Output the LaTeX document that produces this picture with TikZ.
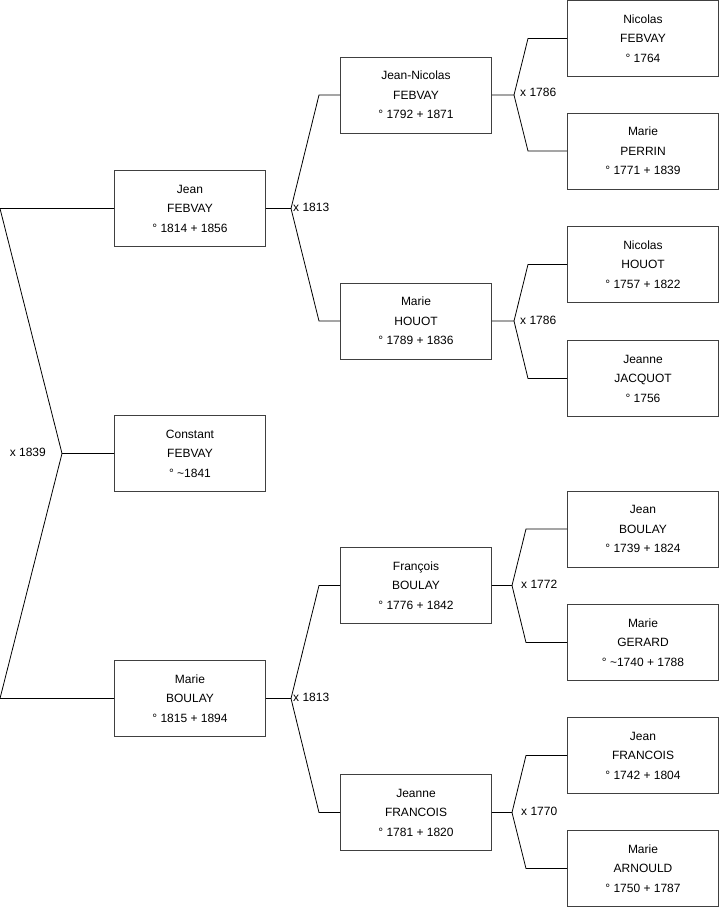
\documentclass[tikz,border=0pt]{standalone}
\usepackage{fontspec}
\setmainfont{Liberation Sans}
\usetikzlibrary{positioning, calc}

\begin{document}
\begin{tikzpicture}[
        x=1pt, y=-1pt, font=\fontsize{12}{19.5}\selectfont,
        person/.style={draw=black!75, line width=0.9pt, fill=white, align=center, inner sep=0pt, minimum width=151pt, minimum height=76pt},
        lnk/.style={line width=0.8pt},
        wed/.style={inner sep=0pt, font=\fontsize{12}{14}\selectfont}]
        \useasboundingbox (0,0) rectangle (719,908);
        % generation 0 and 1
        \node[person] (constant) at (190,453.5) {Constant\\FEBVAY\\° \textasciitilde 1841};
        \node[person] (jean)  at (190,208.5) {Jean\\FEBVAY\\° 1814 + 1856};
        \node[person] (marie) at (190,698.5) {Marie\\BOULAY\\° 1815 + 1894};
        % generation 2
        \node[person] (jnicolas) at (416,95)  {Jean-Nicolas\\FEBVAY\\° 1792 + 1871};
        \node[person] (mhouot)   at (416,321) {Marie\\HOUOT\\° 1789 + 1836};
        \node[person] (fboulay)  at (416,585.5) {François\\BOULAY\\° 1776 + 1842};
        \node[person] (jfrancois) at (416,812.5) {Jeanne\\FRANCOIS\\° 1781 + 1820};
        % generation 3
        \node[person] (nfebvay)  at (643,38.5)  {Nicolas\\FEBVAY\\° 1764};
        \node[person] (mperrin)  at (643,151)   {Marie\\PERRIN\\° 1771 + 1839};
        \node[person] (nhouot)   at (643,264.5) {Nicolas\\HOUOT\\° 1757 + 1822};
        \node[person] (jjacquot) at (643,378.5) {Jeanne\\JACQUOT\\° 1756};
        \node[person] (jboulay)  at (643,529)   {Jean\\BOULAY\\° 1739 + 1824};
        \node[person] (mgerard)  at (643,642.5) {Marie\\GERARD\\° \textasciitilde 1740 + 1788};
        \node[person] (jfrancoisb) at (643,755.5) {Jean\\FRANCOIS\\° 1742 + 1804};
        \node[person] (marnould) at (643,868.5) {Marie\\ARNOULD\\° 1750 + 1787};
        % junctions
        \coordinate (c0) at (62,453.5);   \coordinate (c0a) at (0,208.5);  \coordinate (c0b) at (0,698.5);
        \coordinate (c1) at (291,208.5);  \coordinate (c1a) at (319,95);   \coordinate (c1b) at (319,321);
        \coordinate (c2) at (291,698.5);  \coordinate (c2a) at (319,585.5); \coordinate (c2b) at (319,812.5);
        \coordinate (c3) at (514,95);     \coordinate (c3a) at (528,38.5); \coordinate (c3b) at (528,151);
        \coordinate (c4) at (514,321);    \coordinate (c4a) at (528,264.5); \coordinate (c4b) at (528,378.5);
        \coordinate (c5) at (512,585.5);  \coordinate (c5a) at (526,529);  \coordinate (c5b) at (526,642.5);
        \coordinate (c6) at (512,812.5);  \coordinate (c6a) at (526,755.5); \coordinate (c6b) at (526,868.5);
        \draw[lnk] (constant.west) -- (c0) -- (c0a) -- (jean.west);  \draw[lnk] (c0) -- (c0b) -- (marie.west);
        \draw[lnk] (jean.east) -- (c1) -- (c1a) -- (jnicolas.west); \draw[lnk] (c1) -- (c1b) -- (mhouot.west);
        \draw[lnk] (marie.east) -- (c2) -- (c2a) -- (fboulay.west); \draw[lnk] (c2) -- (c2b) -- (jfrancois.west);
        \draw[lnk] (jnicolas.east) -- (c3) -- (c3a) -- (nfebvay.west); \draw[lnk] (c3) -- (c3b) -- (mperrin.west);
        \draw[lnk] (mhouot.east) -- (c4) -- (c4a) -- (nhouot.west); \draw[lnk] (c4) -- (c4b) -- (jjacquot.west);
        \draw[lnk] (fboulay.east) -- (c5) -- (c5a) -- (jboulay.west); \draw[lnk] (c5) -- (c5b) -- (mgerard.west);
        \draw[lnk] (jfrancois.east) -- (c6) -- (c6a) -- (jfrancoisb.west); \draw[lnk] (c6) -- (c6b) -- (marnould.west);
        % marriages
        \node[wed, anchor=east] (w0) at (46,452) {x 1839};
        \node[wed, anchor=west] (w1) at (293,207) {x 1813};
        \node[wed, anchor=west] (w2) at (293,697) {x 1813};
        \node[wed, anchor=west] (w3) at (520,92)  {x 1786};
        \node[wed, anchor=west] (w4) at (520,320) {x 1786};
        \node[wed, anchor=west] (w5) at (521,584) {x 1772};
        \node[wed, anchor=west] (w6) at (521,811) {x 1770};
      \end{tikzpicture}
\end{document}
